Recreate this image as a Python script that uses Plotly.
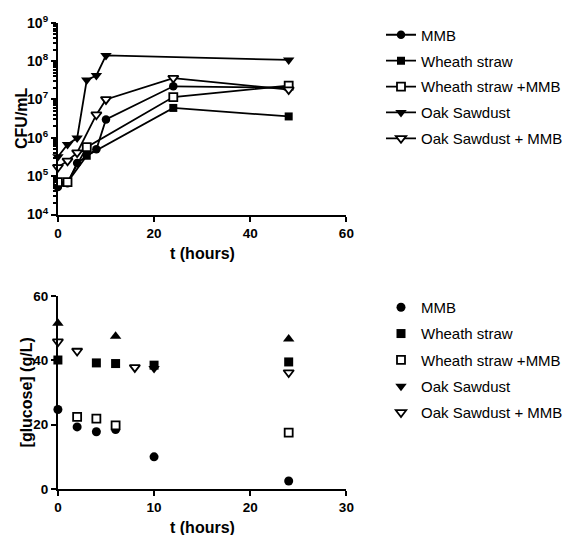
import plotly.graph_objects as go

# ---------------- Data: growth (CFU/mL) ----------------
series_names = ["MMB", "Wheath straw", "Wheath straw +MMB", "Oak Sawdust", "Oak Sawdust + MMB"]

t_mmb = [0, 2, 4, 8, 10, 24, 48]
cfu_mmb = [5.2e4, 6.5e4, 2.2e5, 5.0e5, 3.0e6, 2.2e7, 2.0e7]

t_ws = [0, 2, 6, 24, 48]
cfu_ws = [6.3e4, 7.0e4, 3.4e5, 6.0e6, 3.6e6]

t_wsm = [0, 2, 6, 24, 48]
cfu_wsm = [7.0e4, 7.0e4, 5.7e5, 1.15e7, 2.3e7]

t_oak = [0, 2, 4, 6, 8, 10, 48]
cfu_oak = [3.2e5, 6.7e5, 9.8e5, 3.2e7, 4.2e7, 1.4e8, 1.07e8]

t_oakm = [0, 2, 4, 8, 10, 24, 48]
cfu_oakm = [1.7e5, 2.5e5, 4.1e5, 4.0e6, 1.0e7, 3.6e7, 1.8e7]

# ---------------- Data: glucose (g/L) ----------------
tg_mmb = [0, 2, 4, 6, 10, 24]
glc_mmb = [24.7, 19.3, 17.8, 18.5, 10.0, 2.5]

tg_ws = [0, 4, 6, 10, 24]
glc_ws = [40.1, 39.2, 39.0, 38.5, 39.5]

tg_wsm = [2, 4, 6, 24]
glc_wsm = [22.4, 21.9, 19.8, 17.5]

tg_oak = [10]
glc_oak = [37.5]

tg_oak_up = [0, 6, 24]
glc_oak_up = [51.5, 47.5, 46.6]

tg_oakm = [0, 2, 8, 24]
glc_oakm = [45.8, 42.9, 37.8, 36.2]

top_ticks = [1e4, 1e5, 1e6, 1e7, 1e8, 1e9]
top_ticktext = ["10<sup>4</sup>", "10<sup>5</sup>", "10<sup>6</sup>", "10<sup>7</sup>", "10<sup>8</sup>", "10<sup>9</sup>"]

FONT = "Arial, Liberation Sans, sans-serif"
W, H = 568, 535

fig = go.Figure()

filled = dict(color="black", line=dict(color="black", width=0))
hollow = dict(color="white", line=dict(color="black", width=1.8))

top_specs = [
    (t_mmb, cfu_mmb, "circle", filled, 8.5),
    (t_ws, cfu_ws, "square", filled, 8),
    (t_wsm, cfu_wsm, "square", hollow, 8),
    (t_oak, cfu_oak, "triangle-down", filled, 10),
    (t_oakm, cfu_oakm, "triangle-down", hollow, 9),
]
for i, (x, y, sym, sty, sz) in enumerate(top_specs):
    fig.add_trace(go.Scatter(
        x=x, y=y, mode="lines+markers", name=series_names[i],
        line=dict(color="black", width=1.8),
        marker=dict(symbol=sym, size=sz, **sty),
        xaxis="x", yaxis="y", legend="legend", legendgroup="a%d" % i,
        cliponaxis=False,
    ))

bot_specs = [
    (tg_mmb, glc_mmb, "circle", filled, 9),
    (tg_ws, glc_ws, "square", filled, 9),
    (tg_wsm, glc_wsm, "square", hollow, 8),
    (tg_oak, glc_oak, "triangle-down", filled, 10),
    (tg_oakm, glc_oakm, "triangle-down", hollow, 9),
]
for i, (x, y, sym, sty, sz) in enumerate(bot_specs):
    fig.add_trace(go.Scatter(
        x=x, y=y, mode="markers", name=series_names[i],
        marker=dict(symbol=sym, size=sz, **sty),
        xaxis="x2", yaxis="y2", legend="legend2", legendgroup="b%d" % i,
        cliponaxis=False,
    ))
fig.add_trace(go.Scatter(
    x=tg_oak_up, y=glc_oak_up, mode="markers", showlegend=False,
    marker=dict(symbol="triangle-up", size=10, **filled),
    xaxis="x2", yaxis="y2", cliponaxis=False,
))

xdom = [58 / W, 347 / W]
axis_common = dict(
    showline=True, linecolor="black", linewidth=2, mirror=False,
    ticks="outside", ticklen=5, tickwidth=2, tickcolor="black",
    showgrid=False, zeroline=False, automargin=False,
    tickfont=dict(family=FONT, size=13.5, color="black", weight="bold"),
)

fig.update_layout(
    width=W, height=H,
    margin=dict(l=0, r=0, t=0, b=0),
    paper_bgcolor="white", plot_bgcolor="white",
    font=dict(family=FONT, color="black"),
    xaxis=dict(domain=xdom, anchor="y", range=[0, 60], tickvals=[0, 20, 40, 60], **axis_common),
    yaxis=dict(domain=[1 - 214.5 / H, 1 - 22.7 / H], anchor="x", type="log", range=[4, 9],
               tickvals=top_ticks, ticktext=top_ticktext,
               minor=dict(tickvals=[k * 10 ** d for d in range(4, 9) for k in range(2, 10)],
                          ticks="outside", ticklen=3, tickwidth=1.5, tickcolor="black", showgrid=False),
               **{**axis_common, "tickfont": dict(family=FONT, size=14, color="black", weight="bold")}),
    xaxis2=dict(domain=xdom, anchor="y2", range=[0, 30], tickvals=[0, 10, 20, 30], **axis_common),
    yaxis2=dict(domain=[1 - 489 / H, 1 - 296 / H], anchor="x2", range=[0, 60],
                tickvals=[0, 20, 40, 60], **axis_common),
    legend=dict(x=382 / W, y=1 - 18.5 / H, xanchor="left", yanchor="top",
                font=dict(family=FONT, size=15, color="black"),
                itemwidth=30, tracegroupgap=3.4, bgcolor="rgba(0,0,0,0)"),
    legend2=dict(x=382 / W, y=1 - 291 / H, xanchor="left", yanchor="top",
                 font=dict(family=FONT, size=15, color="black"),
                 itemwidth=30, tracegroupgap=3.8, bgcolor="rgba(0,0,0,0)"),
    annotations=[
        dict(text="<b>CFU/mL</b>", x=22 / W, y=1 - 118 / H, xref="paper", yref="paper",
             textangle=-90, showarrow=False, font=dict(family=FONT, size=16, color="black"),
             xanchor="center", yanchor="middle"),
        dict(text="<b>t (hours)</b>", x=202.5 / W, y=1 - 253 / H, xref="paper", yref="paper",
             showarrow=False, font=dict(family=FONT, size=16, color="black"),
             xanchor="center", yanchor="middle"),
        dict(text="<b>[glucose] (g/L)</b>", x=27 / W, y=1 - 392.5 / H, xref="paper", yref="paper",
             textangle=-90, showarrow=False, font=dict(family=FONT, size=16, color="black"),
             xanchor="center", yanchor="middle"),
        dict(text="<b>t (hours)</b>", x=202.5 / W, y=1 - 527 / H, xref="paper", yref="paper",
             showarrow=False, font=dict(family=FONT, size=16, color="black"),
             xanchor="center", yanchor="middle"),
    ],
)

fig.write_html("out.html", config={"displayModeBar": False},
               post_script="document.body.style.margin='0';document.body.style.overflow='hidden';")
